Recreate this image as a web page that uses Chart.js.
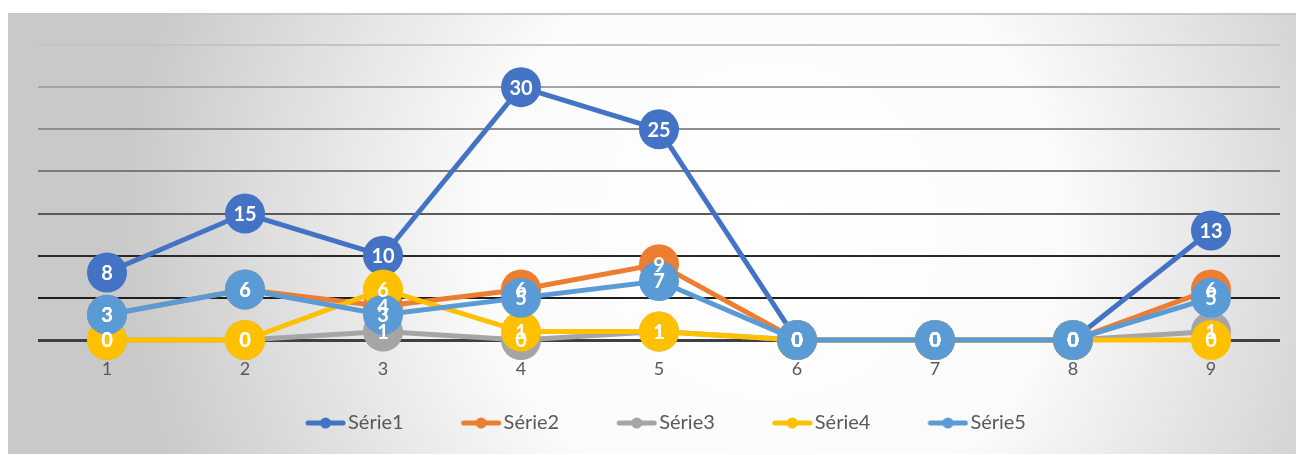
<!DOCTYPE html>
<html>
<head>
<meta charset="utf-8">
<title>Séries</title>
<script src="https://cdn.jsdelivr.net/npm/chart.js@4.4.1/dist/chart.umd.min.js"></script>
<style>
  html, body { margin: 0; padding: 0; background: #fff; }
  #wrap { width: 1300px; height: 455px; }
</style>
</head>
<body>
<div id="wrap"><canvas id="chart" width="1300" height="455"></canvas></div>
<script>
var categories = ['1', '2', '3', '4', '5', '6', '7', '8', '9'];

var serie1 = [8, 15, 10, 30, 25, 0, 0, 0, 13];
var serie2 = [3, 6, 4, 6, 9, 0, 0, 0, 6];
var serie3 = [0, 0, 1, 0, 1, 0, 0, 0, 1];
var serie4 = [0, 0, 6, 1, 1, 0, 0, 0, 0];
var serie5 = [3, 6, 3, 5, 7, 0, 0, 0, 5];

var seriesNames = ['Série1', 'Série2', 'Série3', 'Série4', 'Série5'];
var seriesColors = ['#4472C4', '#ED7D31', '#A5A5A5', '#FFC000', '#5B9BD5'];
var seriesValues = [serie1, serie2, serie3, serie4, serie5];

var FONT = 'Lato, "Open Sans", sans-serif';

// legend icon: thick line with a dot, pushed to the right end of a wider
// transparent canvas so the empty part works as spacing between entries
var ICON_BOX = 80;
function legendIcon(color) {
  var c = document.createElement('canvas');
  c.width = ICON_BOX + 16; c.height = 12;
  var g = c.getContext('2d');
  g.strokeStyle = color;
  g.lineWidth = 5;
  g.lineCap = 'round';
  g.beginPath(); g.moveTo(58, 6); g.lineTo(93, 6); g.stroke();
  g.fillStyle = color;
  g.beginPath(); g.arc(75.5, 6, 5.5, 0, Math.PI * 2); g.fill();
  return c;
}
var icons = seriesColors.map(legendIcon);

// soft grey panel behind the chart, lighter towards the middle
var backdrop = {
  id: 'backdrop',
  beforeDraw: function(chart) {
    var ctx = chart.ctx;
    ctx.save();
    var grad = ctx.createRadialGradient(770, 230, 0, 770, 230, 650);
    grad.addColorStop(0, '#ffffff');
    grad.addColorStop(0.45, '#fbfbfb');
    grad.addColorStop(1, '#c9c9c9');
    ctx.fillStyle = grad;
    ctx.fillRect(8, 13, 1288, 441);
    ctx.strokeStyle = '#c8c8c8';
    ctx.lineWidth = 2;
    ctx.beginPath(); ctx.moveTo(8, 14); ctx.lineTo(1296, 14); ctx.stroke();
    ctx.restore();
  }
};

// white value labels on top of every marker, drawn after all series
var valueLabels = {
  id: 'valueLabels',
  afterDatasetsDraw: function(chart) {
    var ctx = chart.ctx;
    ctx.save();
    ctx.font = 'bold 20px ' + FONT;
    ctx.fillStyle = '#ffffff';
    ctx.textAlign = 'center';
    ctx.textBaseline = 'middle';
    chart.data.datasets.forEach(function(ds, i) {
      var meta = chart.getDatasetMeta(i);
      meta.data.forEach(function(pt, j) {
        ctx.fillText(String(ds.data[j]), pt.x, pt.y + 1);
      });
    });
    ctx.restore();
  }
};

function gridColor(v) {
  if (v === 0) return '#404040';
  var cols = { 5: '#1e1e1e', 10: '#2a2a2a', 15: '#5a5a5a', 20: '#7a7a7a', 25: '#8f8f8f', 30: '#a5a5a5', 35: '#c4c4c4' };
  return cols[v] || '#888888';
}

var datasets = seriesNames.map(function(name, i) {
  return {
    label: name,
    data: seriesValues[i],
    borderColor: seriesColors[i],
    backgroundColor: seriesColors[i],
    borderWidth: 5,
    pointRadius: 20,
    pointHoverRadius: 20,
    pointBackgroundColor: seriesColors[i],
    pointBorderColor: seriesColors[i],
    pointBorderWidth: 0,
    tension: 0,
    clip: false,
    order: seriesNames.length - i
  };
});

new Chart(document.getElementById('chart'), {
  type: 'line',
  data: { labels: categories, datasets: datasets },
  plugins: [backdrop, valueLabels],
  options: {
    responsive: false,
    animation: false,
    events: [],
    // no left padding: the (label-less) y axis takes that room instead,
    // which keeps the legend row a little left of the plot centre
    layout: { padding: { left: 0, right: 16, top: 45, bottom: 12 } },
    scales: {
      x: {
        offset: true,
        grid: { display: false, drawTicks: false },
        border: { display: false },
        ticks: { color: '#595959', font: { family: FONT, size: 18 }, padding: 18 },
        afterFit: function(s) { s.height = 63; }
      },
      y: {
        min: 0,
        max: 35,
        ticks: { display: false, stepSize: 5 },
        border: { display: false },
        grid: {
          drawTicks: false,
          color: function(c) { return gridColor(c.tick.value); },
          lineWidth: function(c) { return c.tick.value === 0 ? 3 : 2; }
        },
        afterFit: function(s) { s.width = 38; }
      }
    },
    plugins: {
      tooltip: { enabled: false },
      legend: {
        position: 'bottom',
        labels: {
          color: '#595959',
          font: { family: FONT, size: 20 },
          usePointStyle: true,
          pointStyleWidth: ICON_BOX,
          padding: 10,
          sort: function(a, b) { return a.datasetIndex - b.datasetIndex; },
          generateLabels: function(chart) {
            var items = Chart.defaults.plugins.legend.labels.generateLabels(chart);
            items.forEach(function(it) { it.pointStyle = icons[it.datasetIndex]; });
            return items;
          }
        }
      }
    }
  }
});
</script>
</body>
</html>
